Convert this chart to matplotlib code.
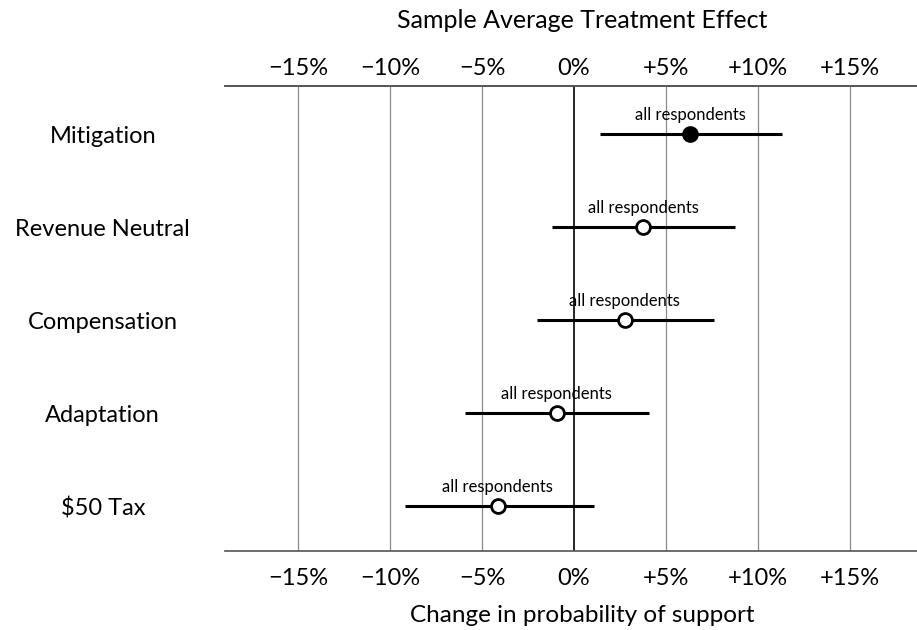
import matplotlib
matplotlib.use("Agg")
import matplotlib.pyplot as plt

plt.rcParams['font.family'] = ['Lato', 'DejaVu Sans']

categories = ["Mitigation", "Revenue Neutral", "Compensation", "Adaptation", "$50 Tax"]
estimates = [6.3, 3.75, 2.75, -0.95, -4.15]
ci_low = [1.4, -1.2, -2.0, -5.9, -9.2]
ci_high = [11.3, 8.75, 7.6, 4.1, 1.1]
filled = [True, False, False, False, False]
annot = "all respondents"
ticks = [-15, -10, -5, 0, 5, 10, 15]
tick_labels = ["\u221215%", "\u221210%", "\u22125%", "0%", "+5%", "+10%", "+15%"]

fig = plt.figure(figsize=(9.17, 6.30), dpi=100)
ax = fig.add_axes([225/917, 1-551/630, 1-225/917, (551-86)/630])

for t in ticks:
    if t == 0:
        ax.axvline(t, color='black', lw=1.2, zorder=1)
    else:
        ax.axvline(t, color='#8a8a8a', lw=0.9, zorder=1)

for i, (cat, est, lo, hi, f) in enumerate(zip(categories, estimates, ci_low, ci_high, filled)):
    ax.plot([lo, hi], [i, i], color='black', lw=2.2, solid_capstyle='butt', zorder=2)
    ax.plot([est], [i], marker='o', markersize=10, markeredgewidth=2,
            markeredgecolor='black', markerfacecolor='black' if f else 'white', zorder=3)
    ax.text(est, i - 0.15, annot, ha='center', va='baseline', fontsize=12, zorder=4)

ax.set_xlim(-18.97, 18.64)
ax.set_ylim(4.48, -0.52)
ax.set_yticks(range(len(categories)))
ax.set_yticklabels(categories, fontsize=17, ha='center')
ax.tick_params(axis='y', length=0, pad=88)

ax.set_xticks(ticks)
ax.set_xticklabels(tick_labels, fontsize=17)
ax.tick_params(axis='x', length=0, pad=12.5)

top = ax.secondary_xaxis('top')
top.set_xticks(ticks)
top.set_xticklabels(tick_labels, fontsize=17)
top.tick_params(axis='x', length=0, pad=5)
top.spines['top'].set_color('#555555')
top.spines['top'].set_linewidth(1.2)

for s in ['left', 'right']:
    ax.spines[s].set_visible(False)
for s in ['top', 'bottom']:
    ax.spines[s].set_color('#555555')
    ax.spines[s].set_linewidth(1.2)

fig.text(582/917, 1-20/630, "Sample Average Treatment Effect", fontsize=18, ha='center', va='center')
fig.text(582/917, 1-615/630, "Change in probability of support", fontsize=17.5, ha='center', va='center')

fig.savefig("out.png", dpi=100)
